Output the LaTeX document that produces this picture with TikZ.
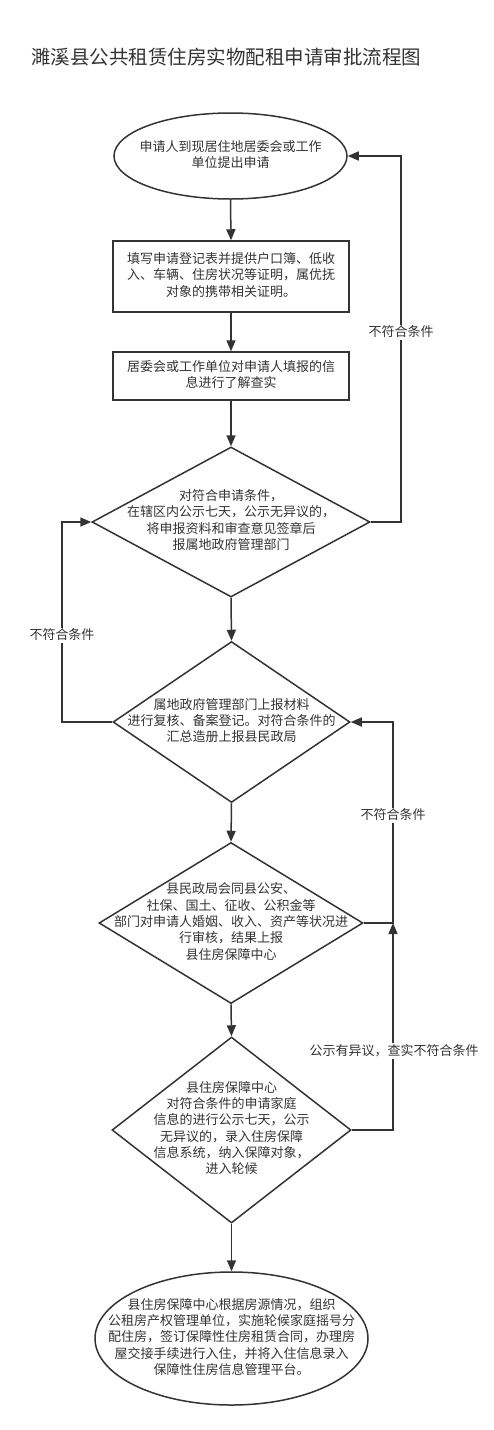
\documentclass[tikz,border=0pt]{standalone}
\usepackage{fontspec}
\setmainfont{Noto Sans CJK SC}
\usetikzlibrary{shapes.geometric,arrows.meta}
\definecolor{ln}{HTML}{333333}
\definecolor{tx}{HTML}{333333}
\begin{document}
\begin{tikzpicture}[x=1pt,y=-1pt,
  shp/.style={draw=ln,line width=1.5pt,inner sep=0pt},
  ell/.style={shp,ellipse},
  box/.style={shp,rectangle},
  dia/.style={shp,diamond},
  txt/.style={font=\fontsize{13}{16.3}\selectfont,text=tx,align=center,inner sep=0pt},
  lab/.style={txt,fill=white,inner sep=1.5pt},
  conn/.style={draw=ln,line width=1.5pt,-{Triangle[length=11pt,width=9pt]}}]

\useasboundingbox (0,0) rectangle (493,1430);

% title
\node[anchor=west,font=\fontsize{19.5}{22}\selectfont,text=tx,inner sep=0pt] (title) at (31,57) {濉溪县公共租赁住房实物配租申请审批流程图};

% shapes
\node[ell,minimum width=233pt,minimum height=86pt] (e1) at (230.5,156) {};
\node[box,minimum width=236pt,minimum height=71pt] (r1) at (231,276.5) {};
\node[box,minimum width=236pt,minimum height=48pt] (r2) at (231,376) {};
\node[dia,minimum width=278pt,minimum height=150pt] (d1) at (231,522) {};
\node[dia,minimum width=237pt,minimum height=161pt] (d2) at (231.5,722) {};
\node[dia,minimum width=264pt,minimum height=161pt] (d3) at (231,923) {};
\node[dia,minimum width=239pt,minimum height=186pt] (d4) at (231.5,1130) {};
\node[ell,minimum width=273pt,minimum height=133pt] (e2) at (231.5,1338.5) {};

% texts
\node[txt] (te1) at ([yshift=1.5pt]e1.center) {申请人到现居住地居委会或工作\\单位提出申请};
\node[txt] (tr1) at ([yshift=1.5pt]r1.center) {填写申请登记表并提供户口簿、低收\\入、车辆、住房状况等证明，属优抚\\对象的携带相关证明。};
\node[txt] (tr2) at ([yshift=1.5pt]r2.center) {居委会或工作单位对申请人填报的信\\息进行了解查实};
\node[txt] (td1) at ([yshift=2pt]d1.center) {对符合申请条件，\\在辖区内公示七天，公示无异议的，\\将申报资料和审查意见签章后\\报属地政府管理部门};
\node[txt] (td2) at ([yshift=1.5pt]d2.center) {属地政府管理部门上报材料\\进行复核、备案登记。对符合条件的\\汇总造册上报县民政局};
\node[txt] (td3) at ([yshift=1.5pt]d3.center) {县民政局会同县公安、\\社保、国土、征收、公积金等\\部门对申请人婚姻、收入、资产等状况进\\行审核，结果上报\\县住房保障中心};
\node[txt] (td4) at ([yshift=2pt]d4.center) {县住房保障中心\\对符合条件的申请家庭\\信息的进行公示七天，公示\\无异议的，录入住房保障\\信息系统，纳入保障对象，\\进入轮候};
\node[txt] (te2) at ([yshift=1.5pt]e2.center) {县住房保障中心根据房源情况，组织\\公租房产权管理单位，实施轮候家庭摇号分\\配住房，签订保障性住房租赁合同，办理房\\屋交接手续进行入住，并将入住信息录入\\保障性住房信息管理平台。};

% bend points
\coordinate (k1) at (401,156);
\coordinate (k2) at (62,522);
\coordinate (k3) at (393,722);
\coordinate (k4) at (393,923);

% main flow
\draw[conn] (e1.south) -- (r1.north);
\draw[conn] (r1.south) -- (r2.north);
\draw[conn] (r2.south) -- (d1.north);
\draw[conn] (d1.south) -- (d2.north);
\draw[conn] (d2.south) -- (d3.north);
\draw[conn] (d3.south) -- (d4.north);
\draw[conn] (d4.south) -- (e2.north);

% feedback
\draw[conn] (d1.east) -| (k1) -- (e1.east);
\draw[conn] (d2.west) -| (k2) -- (d1.west);
\draw[conn] (d3.east) -| (k3) -- (d2.east);
\draw[conn] (d4.east) -| (k4);

% labels
\node[lab] (l1) at (401,332) {不符合条件};
\node[lab] (l2) at (62,635) {不符合条件};
\node[lab] (l3) at (393,815) {不符合条件};
\node[lab] (l4) at (394,1051) {公示有异议，查实不符合条件};
\end{tikzpicture}
\end{document}
